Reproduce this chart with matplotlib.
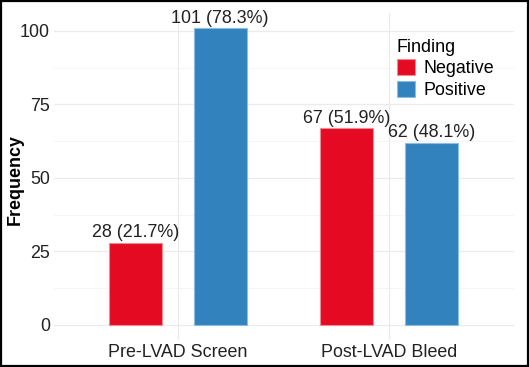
import matplotlib
matplotlib.use("Agg")
import matplotlib.pyplot as plt
from matplotlib.patches import Rectangle
import numpy as np

plt.rcParams['font.family'] = ['Liberation Sans', 'DejaVu Sans']

categories = ["Pre-LVAD Screen", "Post-LVAD Bleed"]
findings = ["Negative", "Positive"]
negative = [28, 67]
positive = [101, 62]
neg_pct = ["21.7%", "51.9%"]
pos_pct = ["78.3%", "48.1%"]
colors = {"Negative": "#E30A22", "Positive": "#3182BD"}
edges = {"Negative": "#F28A95", "Positive": "#8CBDE0"}
yticks = [0, 25, 50, 75, 100]

FS = 12.9
fig = plt.figure(figsize=(5.29, 3.67), dpi=100)
ax = fig.add_axes([0.102, 0.0741, 0.8696, 0.8899])

x = np.arange(1, len(categories) + 1)
off = 0.2
w = 0.25
series = [("Negative", negative, neg_pct, -off), ("Positive", positive, pos_pct, off)]
for name, vals, pcts, o in series:
    ax.bar(x + o, vals, width=w, color=colors[name], edgecolor=edges[name],
           linewidth=0.8, label=name, zorder=3)
    for xi, v, p in zip(x + o, vals, pcts):
        ax.annotate(f"{v} ({p})", (xi, v), xytext=(0, 1.0), textcoords="offset points",
                    ha="center", va="bottom", fontsize=FS, color="#222222", zorder=4)

ax.set_xlim(0.412, 2.592)
ax.set_ylim(-5.05, 106.05)
ax.set_xticks(x)
ax.set_xticklabels(categories, fontsize=FS, color="#222222")
ax.set_yticks(yticks)
ax.set_yticklabels([str(t) for t in yticks], fontsize=FS, color="#222222")
ax.set_yticks([12.5, 37.5, 62.5, 87.5], minor=True)
ax.tick_params(axis='both', which='both', length=0, pad=3)
ax.grid(True, which='major', color="#EBEBEB", linewidth=0.9, zorder=0)
ax.grid(True, which='minor', axis='y', color="#F4F4F4", linewidth=0.6, zorder=0)
for s in ax.spines.values():
    s.set_visible(False)
ax.set_ylabel("Frequency", fontsize=FS, fontweight='bold')
ax.yaxis.set_label_coords(-0.066, 0.49)

leg = ax.legend(title="Finding", loc="upper left", bbox_to_anchor=(0.745, 0.922),
                frameon=False, fontsize=FS, title_fontsize=FS,
                handlelength=1.0, handleheight=1.0, handletextpad=0.5,
                labelspacing=0.2, borderaxespad=0, borderpad=0)
leg._legend_box.align = "left"

fig.patches.append(Rectangle((0.002, 0.003), 0.996, 0.994, transform=fig.transFigure,
                             fill=False, edgecolor="black", linewidth=1.6))

fig.savefig("out.png", dpi=100)
